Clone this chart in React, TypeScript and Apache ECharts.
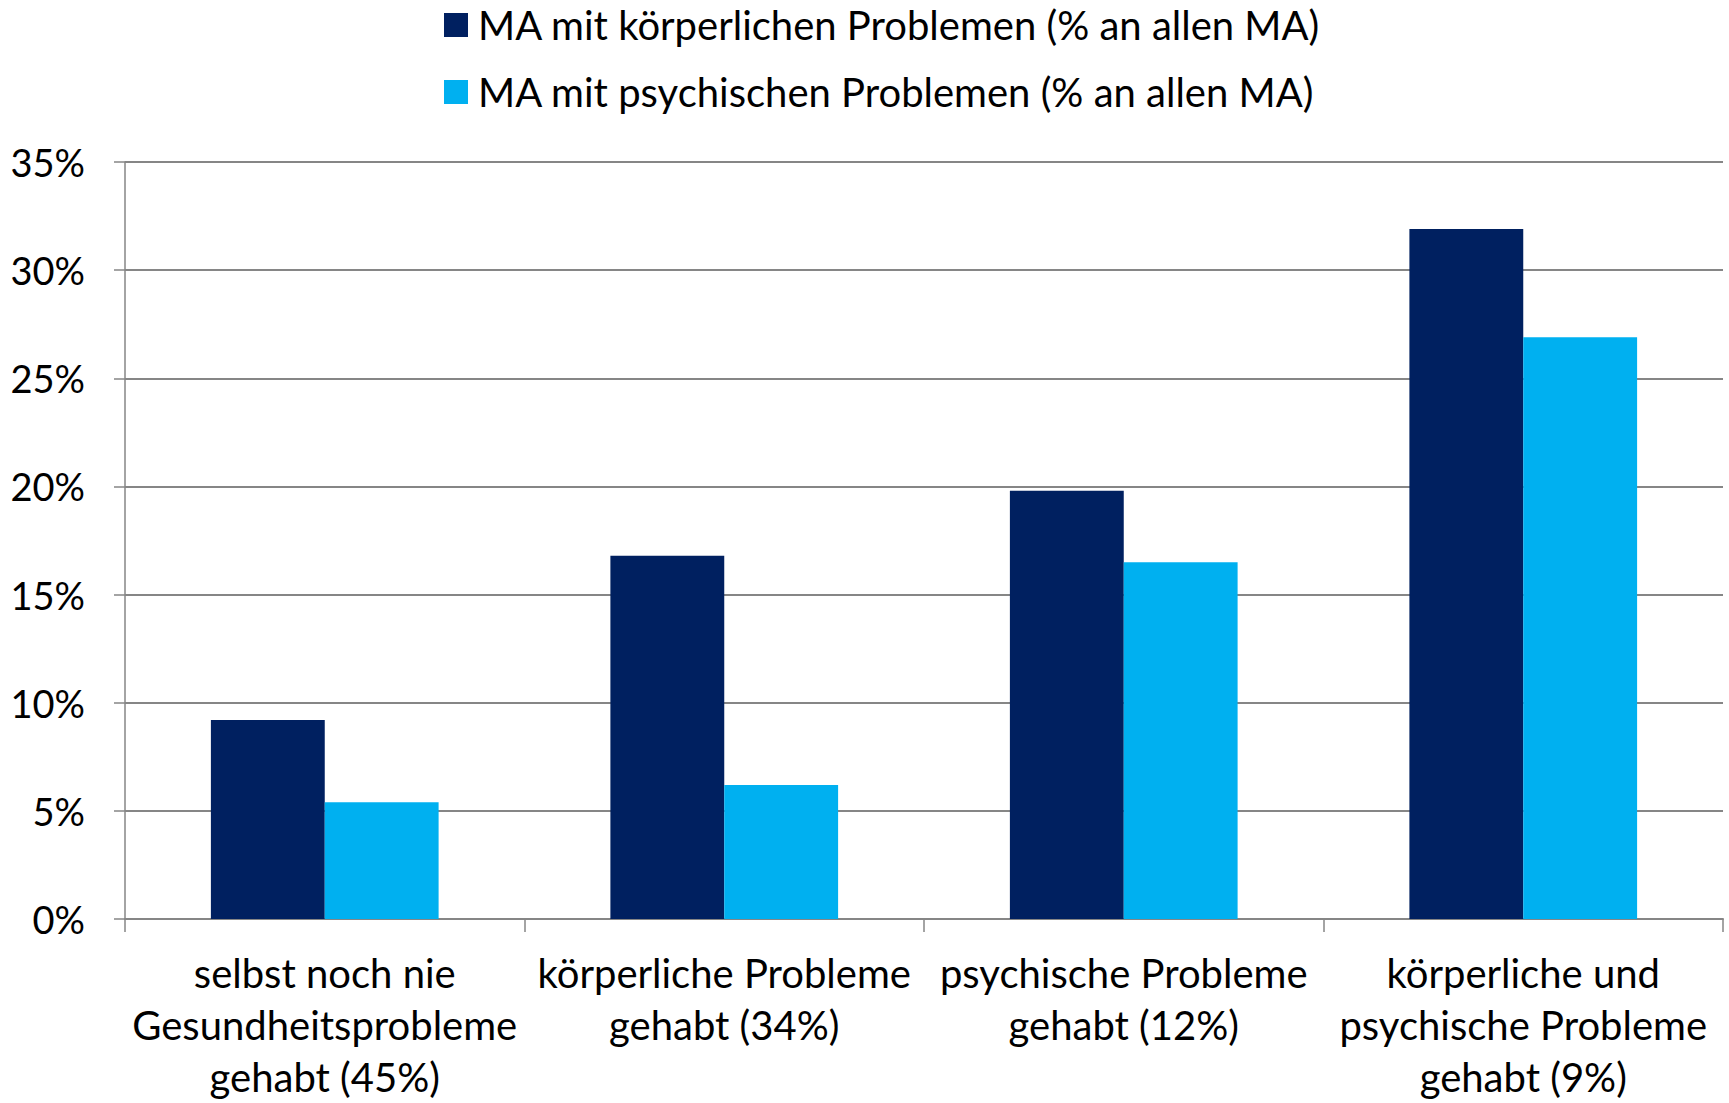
import React, { useEffect, useRef } from "react";
import * as echarts from "echarts";

const categories = [
  "selbst noch nie\nGesundheitsprobleme\ngehabt (45%)",
  "körperliche Probleme\ngehabt (34%)",
  "psychische Probleme\ngehabt (12%)",
  "körperliche und\npsychische Probleme\ngehabt (9%)",
];
const seriesNames = [
  "MA mit körperlichen Problemen (% an allen MA)",
  "MA mit psychischen Problemen (% an allen MA)",
];
const koerperlich = [9.2, 16.8, 19.8, 31.9];
const psychisch = [5.4, 6.2, 16.5, 26.9];
const colors = ["#002060", "#00B0F0"];
const FONT = "Lato, 'Open Sans', sans-serif";

export default function App() {
  const ref = useRef<HTMLDivElement>(null);
  useEffect(() => {
    if (!ref.current) return;
    const chart = echarts.init(ref.current, undefined, { renderer: "svg" });
    chart.setOption({
      animation: false,
      backgroundColor: "#ffffff",
      textStyle: { fontFamily: FONT },
      legend: {
        orient: "vertical",
        left: 439,
        top: 0,
        itemWidth: 24,
        itemHeight: 24,
        itemGap: 27,
        icon: "rect",
        textStyle: { fontFamily: FONT, fontSize: 40, color: "#000", padding: [0, 0, 0, 5] },
        data: seriesNames,
      },
      grid: { left: 125, right: 6, top: 162, bottom: 170, containLabel: false },
      xAxis: {
        type: "category",
        data: categories,
        axisLine: { lineStyle: { color: "#868686", width: 2 } },
        axisTick: { show: true, length: 13, lineStyle: { color: "#868686", width: 1.5 } },
        axisLabel: {
          interval: 0,
          margin: 28,
          fontFamily: FONT,
          fontSize: 40,
          color: "#000",
          lineHeight: 52,
        },
      },
      yAxis: {
        type: "value",
        min: 0,
        max: 35,
        interval: 5,
        axisLine: { show: true, lineStyle: { color: "#868686", width: 1.5 } },
        axisTick: { show: true, length: 11, lineStyle: { color: "#868686", width: 1.5 } },
        splitLine: { lineStyle: { color: "#868686", width: 2 } },
        axisLabel: {
          formatter: "{value}%",
          margin: 40,
          fontFamily: FONT,
          fontSize: 38,
          color: "#000",
        },
      },
      series: [
        {
          name: seriesNames[0],
          type: "bar",
          data: koerperlich,
          itemStyle: { color: colors[0] },
          barGap: "0%",
          barCategoryGap: "43%",
        },
        {
          name: seriesNames[1],
          type: "bar",
          data: psychisch,
          itemStyle: { color: colors[1] },
          barGap: "0%",
          barCategoryGap: "43%",
        },
      ],
    });
    return () => chart.dispose();
  }, []);
  return (
    <div
      ref={ref}
      style={{ position: "absolute", left: 0, top: 0, width: 1729, height: 1103, background: "#fff" }}
    />
  );
}
